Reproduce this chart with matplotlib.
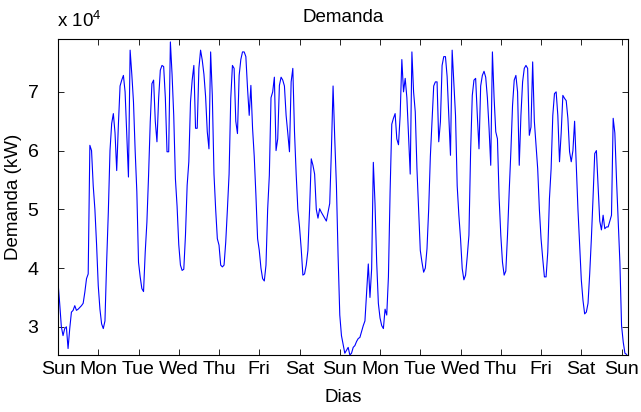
import numpy as np
import matplotlib
matplotlib.use('Agg')
import matplotlib.pyplot as plt

plt.rcParams['font.family'] = ['Liberation Sans', 'DejaVu Sans']
plt.rcParams['mathtext.fontset'] = 'custom'
plt.rcParams['mathtext.rm'] = 'Liberation Sans'
plt.rcParams['mathtext.default'] = 'regular'

# demanda horaria (x 10^4 kW), dos semanas empezando en domingo
demanda = [
	3.76, 3.40, 3.00, 2.85, 2.97, 3.00, 2.63, 2.97, 3.25, 3.28, 3.36, 3.28,
	3.30, 3.33, 3.36, 3.40, 3.59, 3.82, 3.90, 6.09, 6.00, 5.40, 5.00, 4.40,
	3.70, 3.30, 3.05, 2.97, 3.10, 4.10, 4.95, 6.00, 6.46, 6.63, 6.30, 5.66,
	6.44, 7.10, 7.20, 7.28, 7.00, 6.26, 5.55, 7.71, 7.30, 6.83, 6.00, 5.30,
	4.10, 3.85, 3.65, 3.60, 4.27, 4.78, 5.58, 6.49, 7.14, 7.20, 6.50, 6.15,
	6.89, 7.37, 7.45, 7.43, 6.90, 5.98, 5.98, 7.85, 7.30, 6.60, 5.52, 5.05,
	4.40, 4.05, 3.96, 3.98, 4.56, 5.41, 5.81, 6.83, 7.20, 7.45, 6.38, 6.38,
	7.40, 7.71, 7.54, 7.30, 6.92, 6.32, 6.03, 7.68, 6.94, 5.60, 5.00, 4.50,
	4.39, 4.05, 4.02, 4.05, 4.44, 5.00, 5.60, 6.89, 7.45, 7.40, 6.50, 6.29,
	7.28, 7.55, 7.68, 7.68, 7.60, 7.06, 6.60, 7.11, 6.38, 5.90, 5.24, 4.50,
	4.30, 4.00, 3.82, 3.78, 4.05, 5.00, 5.58, 6.90, 7.00, 7.25, 6.00, 6.20,
	7.11, 7.25, 7.20, 7.10, 6.60, 6.30, 5.98, 7.17, 7.40, 6.32, 5.60, 5.00,
	4.70, 4.33, 3.88, 3.90, 4.05, 4.30, 5.00, 5.86, 5.75, 5.60, 5.00, 4.85,
	5.01, 4.95, 4.90, 4.85, 4.80, 4.95, 5.10, 6.00, 7.10, 6.20, 5.40, 4.20,
	3.20, 2.85, 2.70, 2.55, 2.60, 2.65, 2.52, 2.55, 2.65, 2.68, 2.75, 2.80,
	2.82, 2.92, 3.02, 3.10, 3.60, 4.07, 3.50, 3.99, 5.80, 5.10, 4.10, 3.40,
	3.15, 3.02, 2.97, 3.30, 3.20, 3.85, 5.30, 6.45, 6.55, 6.63, 6.20, 6.10,
	6.60, 7.55, 7.00, 7.23, 6.90, 6.26, 5.60, 7.68, 7.00, 6.66, 5.70, 5.00,
	4.30, 4.10, 3.93, 4.00, 4.33, 5.00, 5.90, 6.49, 7.10, 7.17, 7.17, 6.15,
	6.49, 7.45, 7.60, 7.60, 7.26, 6.60, 5.92, 7.71, 7.17, 6.60, 5.40, 4.90,
	4.50, 3.99, 3.80, 3.88, 4.20, 4.56, 5.98, 6.94, 7.20, 7.23, 6.60, 6.03,
	7.10, 7.28, 7.35, 7.25, 6.90, 6.38, 5.75, 7.68, 6.90, 6.32, 6.20, 5.20,
	4.56, 4.10, 3.88, 3.95, 4.56, 5.30, 5.98, 6.77, 7.20, 7.28, 7.00, 5.75,
	6.60, 7.17, 7.40, 7.45, 7.40, 6.26, 6.40, 7.51, 6.50, 6.09, 5.69, 5.00,
	4.50, 4.16, 3.85, 3.85, 4.27, 5.18, 5.69, 6.60, 6.97, 7.00, 6.60, 5.81,
	6.30, 6.94, 6.89, 6.85, 6.55, 5.98, 5.81, 6.00, 6.50, 5.75, 5.00, 4.40,
	3.80, 3.45, 3.22, 3.25, 3.40, 3.90, 4.50, 5.20, 5.95, 6.00, 5.40, 4.80,
	4.65, 4.90, 4.67, 4.70, 4.70, 4.80, 4.90, 6.55, 6.30, 5.50, 4.78, 4.10,
	3.02, 2.74, 2.55, 2.53,
]
dias = ['Sun', 'Mon', 'Tue', 'Wed', 'Thu', 'Fri', 'Sat',
	'Sun', 'Mon', 'Tue', 'Wed', 'Thu', 'Fri', 'Sat', 'Sun']
yticks = [3, 4, 5, 6, 7]

d = np.array(demanda)
t = np.arange(len(d)) / 24.0

fig = plt.figure(figsize=(6.41, 4.12), dpi=100)
ax = fig.add_axes([58 / 641, 57 / 412, 570 / 641, 316 / 412])
ax.plot(t, d, color='#0000ff', lw=0.8)

ax.set_xlim(0, 14.16)
ax.set_ylim(2.52, 7.9)
ax.set_xticks(np.arange(len(dias)))
ax.set_xticklabels(dias)
ax.set_yticks(yticks)
ax.set_yticklabels([str(v) for v in yticks])
ax.tick_params(direction='in', length=4, width=0.6, top=True, right=True,
	labelsize=14, colors='black')
ax.tick_params(axis='x', pad=4)
ax.tick_params(axis='y', pad=14)
for s in ax.spines.values():
	s.set_linewidth(0.8)

ax.set_title('Demanda', fontsize=13.5, pad=12)
ax.set_xlabel('Dias', fontsize=13.5)
ax.set_ylabel('Demanda (kW)', fontsize=13.5)
ax.xaxis.set_label_coords(0.5, -0.108)
ax.yaxis.set_label_coords(-0.064, 0.5)
fig.text(57 / 641, 1 - 27 / 412, r'x 10$^{4}$', fontsize=13.5, ha='left', va='baseline')

fig.savefig('out.png', dpi=100)
